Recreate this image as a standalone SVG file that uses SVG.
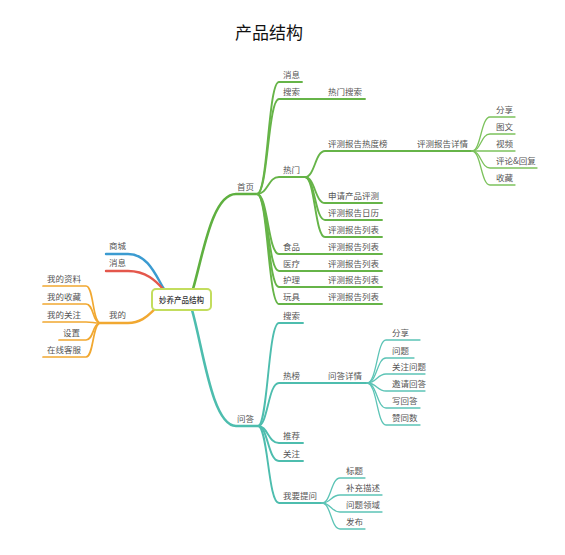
<svg xmlns="http://www.w3.org/2000/svg" width="565" height="555" viewBox="0 0 565 555">
<style>
text{font-family:"Noto Sans CJK SC","Noto Sans",sans-serif;font-size:8.5px;fill:#555}
.title{font-size:17px;fill:#111;text-anchor:middle}
.root{font-size:7.5px;fill:#333;text-anchor:middle;font-weight:500}
path{fill:none;stroke-linecap:round;stroke-linejoin:round}
.g1{stroke:#5fb040;stroke-width:2.6}
.g2{stroke:#66b448;stroke-width:1.9}
.g3{stroke:#7cc25c;stroke-width:1.3}
.t1{stroke:#4dbdae;stroke-width:2.6}
.t2{stroke:#4dbdae;stroke-width:1.9}
.t3{stroke:#5cc4b6;stroke-width:1.3}
.o1{stroke:#f1a831;stroke-width:2.4}
.o2{stroke:#f1a831;stroke-width:1.7}
.b1{stroke:#3b9bd1;stroke-width:2.4}
.r1{stroke:#e4574c;stroke-width:2.4}
</style>
<rect width="565" height="555" fill="#fff"/>
<text class="title" x="269" y="39">产品结构</text>
<g id="connectors">
<path class="b1" d="M106,254 L128,254 C148,254 156,276 164,289"/>
<path class="r1" d="M106,271 L128,271 C146,271 156,281 163,289"/>
<path class="o1" d="M100,323 L128,323 C143,323 150,313 155,309"/>
<path class="o2" d="M101,323 C92,323 94,286 86,286 L43,286"/>
<path class="o2" d="M101,323 C92,323 94,304 86,304 L43,304"/>
<path class="o2" d="M101,323 C92,323 94,322 86,322 L43,322"/>
<path class="o2" d="M101,323 C92,323 94,340 86,340 L59,340"/>
<path class="o2" d="M101,323 C92,323 94,357 86,357 L43,357"/>
<path class="g1" d="M193,289 C203,255 212,194 236,194 L257,194"/>
<path class="g2" d="M257,194 C268,194 268,82 279,82 L302,82"/>
<path class="g2" d="M257,194 C268,194 268,99 279,99 L365,99"/>
<path class="g2" d="M257,194 C268,194 268,177 279,177 L305,177"/>
<path class="g2" d="M257,194 C268,194 268,254 279,254 L382,254"/>
<path class="g2" d="M257,194 C268,194 268,271 279,271 L382,271"/>
<path class="g2" d="M257,194 C268,194 268,287 279,287 L382,287"/>
<path class="g2" d="M257,194 C268,194 268,304 279,304 L382,304"/>
<path class="g2" d="M305,177 C315,177 315,151 325,151 L472,151"/>
<path class="g2" d="M305,177 C315,177 315,203 325,203 L382,203"/>
<path class="g2" d="M305,177 C315,177 315,220 325,220 L382,220"/>
<path class="g2" d="M305,177 C315,177 315,237 325,237 L382,237"/>
<path class="g3" d="M472,151 C481,151 481,117 490,117 L515,117"/>
<path class="g3" d="M472,151 C481,151 481,134 490,134 L515,134"/>
<path class="g3" d="M472,151 C481,151 481,151 490,151 L515,151"/>
<path class="g3" d="M472,151 C481,151 481,168 490,168 L537,168"/>
<path class="g3" d="M472,151 C481,151 481,185 490,185 L515,185"/>
<path class="t1" d="M192,310 C203,348 212,426 236,426 L258,426"/>
<path class="t2" d="M258,426 C268,426 268,323 279,323 L303,323"/>
<path class="t2" d="M258,426 C268,426 268,383 279,383 L367,383"/>
<path class="t2" d="M258,426 C268,426 268,443 279,443 L303,443"/>
<path class="t2" d="M258,426 C268,426 268,461 279,461 L303,461"/>
<path class="t2" d="M258,426 C268,426 268,503 279,503 L322,503"/>
<path class="t3" d="M367,383 C377,383 377,340 386,340 L420,340"/>
<path class="t3" d="M367,383 C377,383 377,358 386,358 L414,358"/>
<path class="t3" d="M367,383 C377,383 377,374 386,374 L425,374"/>
<path class="t3" d="M367,383 C377,383 377,391 386,391 L425,391"/>
<path class="t3" d="M367,383 C377,383 377,408 386,408 L420,408"/>
<path class="t3" d="M367,383 C377,383 377,425 386,425 L420,425"/>
<path class="t3" d="M322,503 C331,503 331,478 340,478 L365,478"/>
<path class="t3" d="M322,503 C331,503 331,495 340,495 L382,495"/>
<path class="t3" d="M322,503 C331,503 331,512 340,512 L382,512"/>
<path class="t3" d="M322,503 C331,503 331,529 340,529 L365,529"/>
</g>
<g id="root"><rect x="152" y="289" width="59" height="21" rx="4" fill="#fff" stroke="#c3dd5e" stroke-width="2"/><text class="root" x="181.5" y="302.5">妙养产品结构</text></g>
<g id="n-shangcheng"><text x="109" y="249">商城</text></g>
<g id="n-xiaoxi-l"><text x="109" y="266">消息</text></g>
<g id="n-wode"><text x="109" y="318">我的</text></g>
<g id="n-wdzl"><text x="47" y="282">我的资料</text></g>
<g id="n-wdsc"><text x="47" y="300">我的收藏</text></g>
<g id="n-wdgz"><text x="47" y="318">我的关注</text></g>
<g id="n-shezhi"><text x="63" y="336">设置</text></g>
<g id="n-zxkf"><text x="47" y="353">在线客服</text></g>
<g id="n-shouye"><text x="237" y="190">首页</text></g>
<g id="n-xiaoxi"><text x="283" y="78">消息</text></g>
<g id="n-sousuo"><text x="283" y="95">搜索</text></g>
<g id="n-rmss"><text x="328" y="95">热门搜索</text></g>
<g id="n-remen"><text x="283" y="173">热门</text></g>
<g id="n-rdb"><text x="328" y="147">评测报告热度榜</text></g>
<g id="n-bgxq"><text x="417" y="147">评测报告详情</text></g>
<g id="n-fx1"><text x="496" y="113">分享</text></g>
<g id="n-tw"><text x="496" y="130">图文</text></g>
<g id="n-sp"><text x="496" y="147">视频</text></g>
<g id="n-plhf"><text x="496" y="164">评论&amp;回复</text></g>
<g id="n-sc"><text x="496" y="181">收藏</text></g>
<g id="n-sqpc"><text x="328" y="199">申请产品评测</text></g>
<g id="n-rl"><text x="328" y="216">评测报告日历</text></g>
<g id="n-lb0"><text x="328" y="233">评测报告列表</text></g>
<g id="n-shipin"><text x="283" y="250">食品</text><text x="328" y="250">评测报告列表</text></g>
<g id="n-yiliao"><text x="283" y="267">医疗</text><text x="328" y="267">评测报告列表</text></g>
<g id="n-huli"><text x="283" y="283">护理</text><text x="328" y="283">评测报告列表</text></g>
<g id="n-wanju"><text x="283" y="300">玩具</text><text x="328" y="300">评测报告列表</text></g>
<g id="n-wenda"><text x="237" y="422">问答</text></g>
<g id="n-sousuo2"><text x="283" y="319">搜索</text></g>
<g id="n-rebang"><text x="283" y="379">热榜</text></g>
<g id="n-wdxq"><text x="328" y="379">问答详情</text></g>
<g id="n-fx2"><text x="392" y="336">分享</text></g>
<g id="n-wt"><text x="392" y="354">问题</text></g>
<g id="n-gzwt"><text x="392" y="370">关注问题</text></g>
<g id="n-yqhd"><text x="392" y="387">邀请回答</text></g>
<g id="n-xhd"><text x="392" y="404">写回答</text></g>
<g id="n-zts"><text x="392" y="421">赞同数</text></g>
<g id="n-tuijian"><text x="283" y="439">推荐</text></g>
<g id="n-guanzhu"><text x="283" y="457">关注</text></g>
<g id="n-wytw"><text x="283" y="499">我要提问</text></g>
<g id="n-bt"><text x="346" y="474">标题</text></g>
<g id="n-bcms"><text x="346" y="491">补充描述</text></g>
<g id="n-wtly"><text x="346" y="508">问题领域</text></g>
<g id="n-fb"><text x="346" y="525">发布</text></g>
</svg>
